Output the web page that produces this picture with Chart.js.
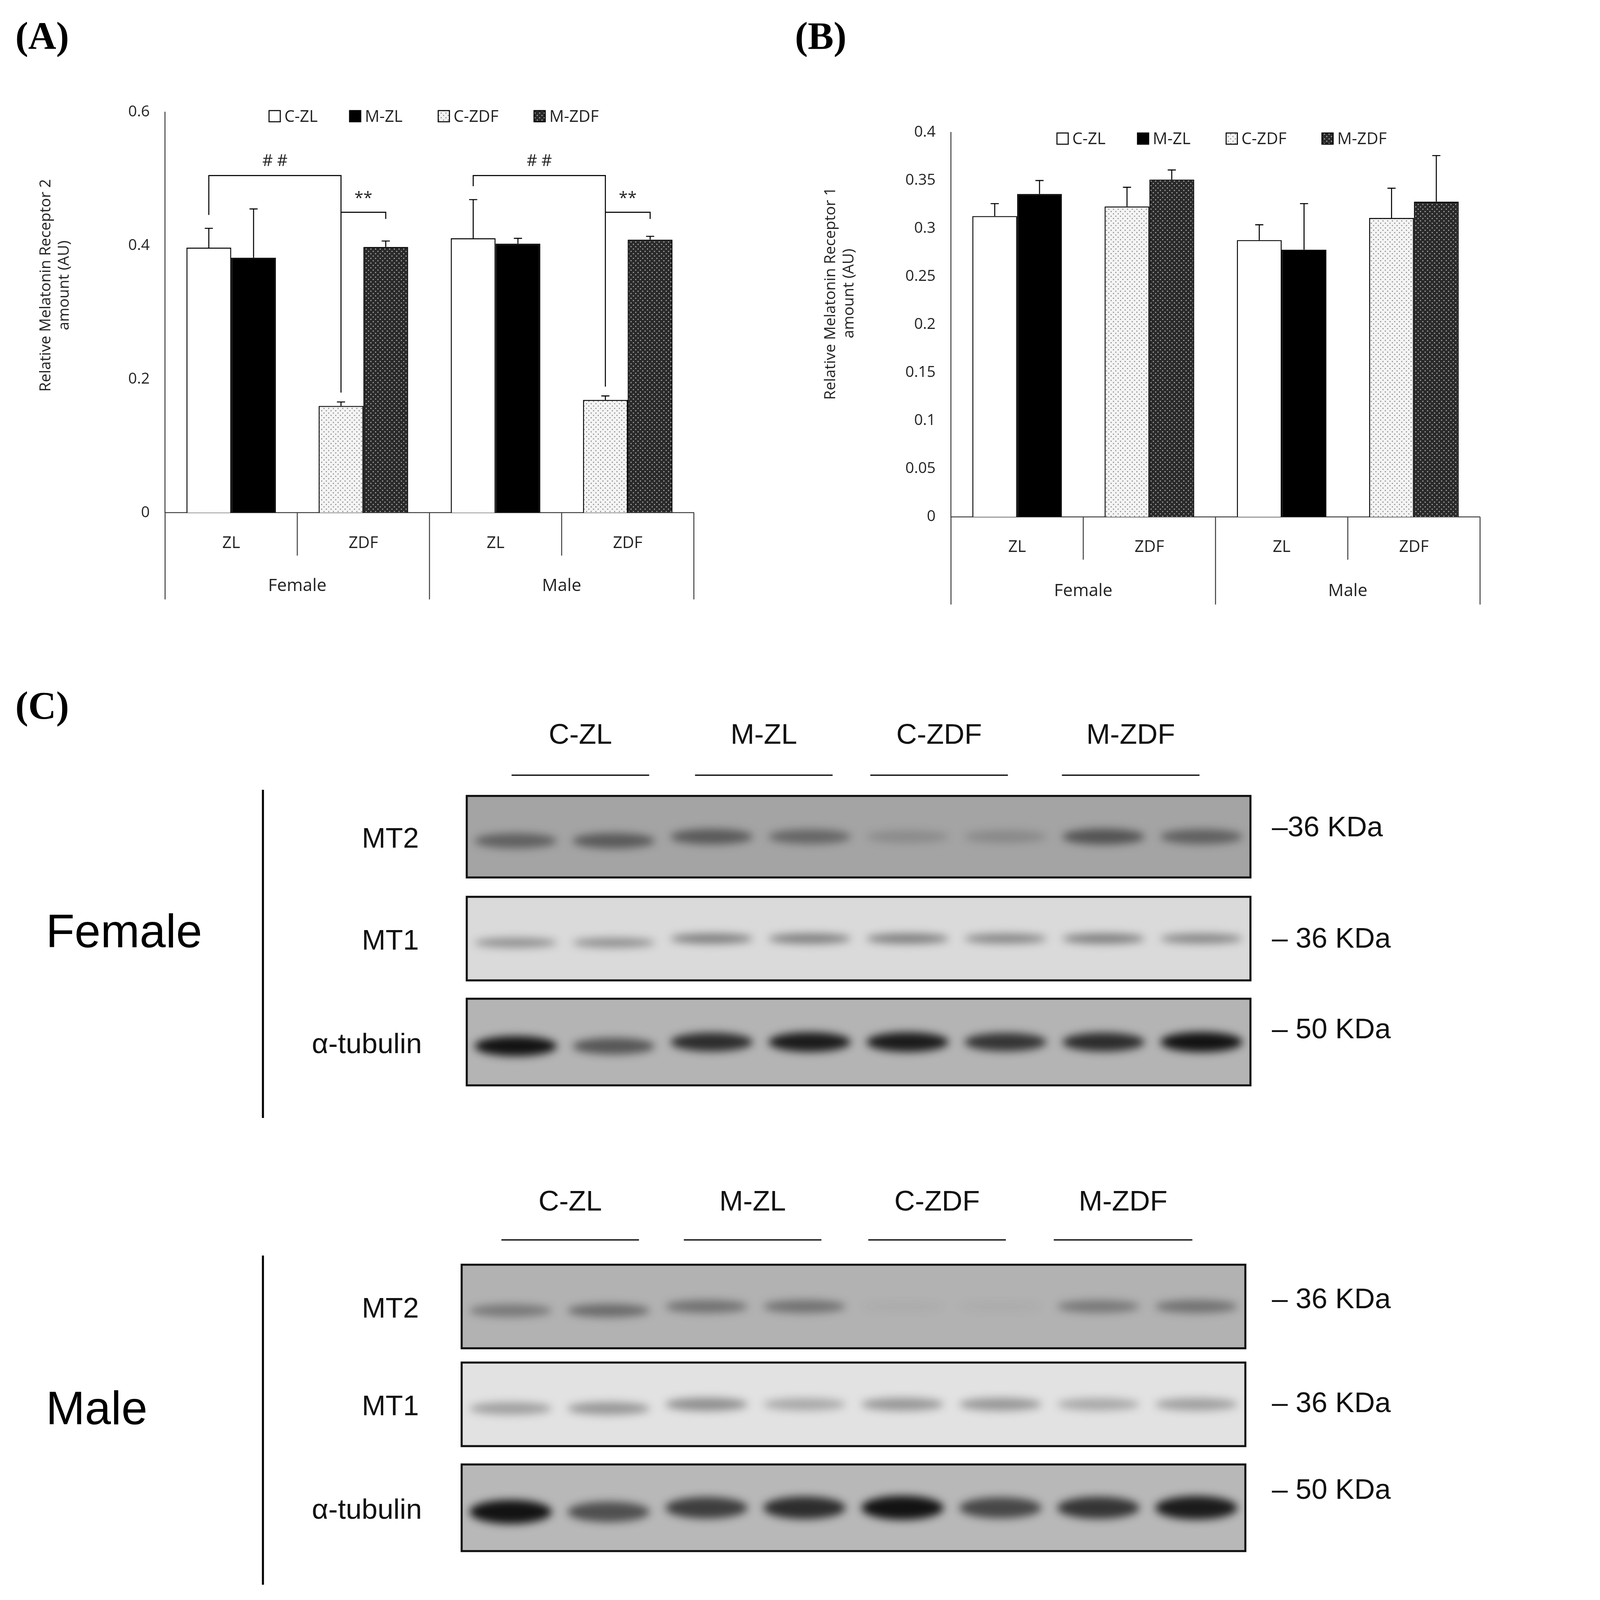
<!DOCTYPE html>
<html><head><meta charset="utf-8">
<script src="https://cdn.jsdelivr.net/npm/chart.js@4.4.1/dist/chart.umd.min.js"></script>
<style>
html,body{margin:0;padding:0;background:#fff;overflow:hidden;}
#page{position:relative;background:#fff;overflow:hidden;}
canvas{position:absolute;}
</style></head><body><div id="page">
<canvas id="ca"></canvas><canvas id="cb"></canvas><canvas id="cc"></canvas>
</div>
<script>
// ---- data ----
const categories = ["ZL","ZDF","ZL","ZDF"];
const sexGroups = ["Female","Male"];
const seriesNames = ["C-ZL","M-ZL","C-ZDF","M-ZDF"];
// Panel A: MT2
const a_CZL  = [0.397, null, 0.411, null];
const a_MZL  = [0.382, null, 0.403, null];
const a_CZDF = [null, 0.160, null, 0.169];
const a_MZDF = [null, 0.398, null, 0.409];
const a_errCZL  = [0.029, null, 0.058, null];
const a_errMZL  = [0.073, null, 0.008, null];
const a_errCZDF = [null, 0.006, null, 0.006];
const a_errMZDF = [null, 0.009, null, 0.005];
// Panel B: MT1
const b_CZL  = [0.313, null, 0.288, null];
const b_MZL  = [0.336, null, 0.278, null];
const b_CZDF = [null, 0.323, null, 0.311];
const b_MZDF = [null, 0.351, null, 0.328];
const b_errCZL  = [0.013, null, 0.016, null];
const b_errMZL  = [0.014, null, 0.048, null];
const b_errCZDF = [null, 0.020, null, 0.031];
const b_errMZDF = [null, 0.010, null, 0.048];
// Panel C band intensities (0..1) per lane
const femMT2 = [0.55,0.6,0.6,0.5,0.2,0.22,0.65,0.55];
const femMT1 = [0.45,0.45,0.55,0.55,0.55,0.5,0.55,0.5];
const femTub = [0.95,0.55,0.8,0.9,0.9,0.75,0.8,0.95];
const malMT2 = [0.45,0.55,0.5,0.5,0.05,0.05,0.45,0.5];
const malMT1 = [0.4,0.45,0.5,0.35,0.45,0.45,0.35,0.4];
const malTub = [0.95,0.6,0.7,0.8,0.95,0.65,0.75,0.9];

const W = window.innerWidth || 4887, H = window.innerHeight || 5233;
const S = Math.min(W/1467, H/1570);
const s = v => v*S;
const pg = document.getElementById('page');
pg.style.width = W+'px'; pg.style.height = H+'px';
const FONT = "'Open Sans', 'Liberation Sans', sans-serif";
Chart.defaults.font.family = FONT;
Chart.defaults.color = '#222';

function makePattern(bg, fg){
  const p = Math.max(3, Math.round(s(2.4)));
  const c = document.createElement('canvas'); c.width = p*2; c.height = p*2;
  const g = c.getContext('2d');
  g.fillStyle = bg; g.fillRect(0,0,p*2,p*2);
  g.fillStyle = fg;
  const d = Math.max(1, Math.round(p*0.55));
  g.fillRect(0,0,d,d); g.fillRect(p,p,d,d);
  return g.createPattern(c,'repeat');
}
const patLight = makePattern('#f4f4f4','#9a9a9a');
const patDark = makePattern('#2a2a2a','#9a9a9a');
const fills = ['#ffffff','#000000',patLight,patDark];

function makeChart(id, left, top, w, h, areaL, areaT, areaR, areaB, data, errs, cfg){
  const cv = document.getElementById(id);
  cv.width = Math.round(s(w)); cv.height = Math.round(s(h));
  cv.style.left = s(left)+'px'; cv.style.top = s(top)+'px';
  const yW = 60;
  const datasets = data.map((d,i)=>({label:seriesNames[i], data:d, backgroundColor:fills[i],
    borderColor:'#000', borderWidth:s(1), skipNull:true, categoryPercentage:0.677, barPercentage:1}));
  const plugin = {
    id:'custom'+id,
    afterDatasetsDraw(chart){
      const ctx = chart.ctx, ys = chart.scales.y, xs = chart.scales.x, ca = chart.chartArea;
      ctx.save();
      ctx.strokeStyle='#000'; ctx.lineWidth = s(1);
      data.forEach((d,i)=>{
        const meta = chart.getDatasetMeta(i);
        d.forEach((v,j)=>{
          if(v==null) return;
          const el = meta.data[j];
          const yt = ys.getPixelForValue(v+errs[i][j]);
          ctx.beginPath(); ctx.moveTo(el.x, el.y); ctx.lineTo(el.x, yt);
          ctx.moveTo(el.x-s(4), yt); ctx.lineTo(el.x+s(4), yt); ctx.stroke();
        });
      });
      const cw = (ca.right-ca.left)/4;
      ctx.strokeStyle='#444';
      for(let k=0;k<=4;k++){
        const x = ca.left + k*cw;
        const len = (k%2===0)? cfg.outerLen : cfg.innerLen;
        ctx.beginPath(); ctx.moveTo(x, ca.bottom); ctx.lineTo(x, ca.bottom+s(len)); ctx.stroke();
      }
      ctx.fillStyle='#222'; ctx.textAlign='center'; ctx.textBaseline='middle';
      ctx.font = s(16)+'px '+FONT;
      categories.forEach((c,k)=>ctx.fillText(c, xs.getPixelForValue(k), ca.bottom+s(cfg.catY)));
      ctx.font = s(17)+'px '+FONT;
      sexGroups.forEach((g,k)=>ctx.fillText(g, ca.left+(2*k+1)*cw, ca.bottom+s(cfg.grpY)));
      ctx.save();
      ctx.translate(s(cfg.titleX), s(cfg.titleY)); ctx.rotate(-Math.PI/2);
      ctx.font = s(15)+'px '+FONT;
      ctx.fillText(cfg.title[0], 0, 0); ctx.fillText(cfg.title[1], 0, s(18));
      ctx.restore();
      ctx.font = s(16)+'px '+FONT; ctx.textAlign='left';
      seriesNames.forEach((n,i)=>{
        const x = s(cfg.legX[i]), y = s(cfg.legY);
        const b = s(11);
        ctx.fillStyle = fills[i]; ctx.fillRect(x, y-b/2, b, b);
        ctx.strokeStyle='#000'; ctx.lineWidth=s(1); ctx.strokeRect(x, y-b/2, b, b);
        ctx.fillStyle='#222'; ctx.fillText(n, x+b+s(4), y+s(1));
      });
      if(cfg.extra) cfg.extra(chart, ctx);
      ctx.restore();
    }
  };
  return new Chart(cv, {
    type:'bar',
    data:{labels:categories, datasets},
    options:{
      responsive:false, animation:false, devicePixelRatio:1,
      layout:{padding:{left:s(areaL-yW), top:s(areaT), right:s(w-areaR), bottom:0}},
      plugins:{legend:{display:false}, tooltip:{enabled:false}},
      scales:{
        x:{grid:{display:false}, ticks:{display:false}, border:{display:true,color:'#444',width:s(1)},
           afterFit(sc){ sc.height = s(h-areaB); }},
        y:{min:0, max:cfg.max, grid:{display:false}, border:{display:true,color:'#444',width:s(1)},
           ticks:{stepSize:cfg.step, font:{size:s(15)}, color:'#222', padding:s(12),
             callback:v=>String(Number(v.toFixed(3)))},
           afterFit(sc){ sc.width = s(yW); }}
      }
    },
    plugins:[plugin]
  });
}

makeChart('ca', 0, 0, 720, 620, 162, 110, 681, 503,
  [a_CZL,a_MZL,a_CZDF,a_MZDF], [a_errCZL,a_errMZL,a_errCZDF,a_errMZDF],
  {max:0.6, step:0.2, outerLen:85, innerLen:42, catY:30, grpY:72,
   titleX:45, titleY:280, title:['Relative Melatonin Receptor 2','amount (AU)'],
   legX:[264,343,430,524], legY:114,
   extra(chart, ctx){
     const ys = chart.scales.y;
     ctx.strokeStyle='#000'; ctx.lineWidth=s(1); ctx.fillStyle='#222';
     ctx.textAlign='center';
     [0,2].forEach(k=>{
       const m0 = chart.getDatasetMeta(0).data[k].x;
       const m2 = chart.getDatasetMeta(2).data[k+1].x;
       const m3 = chart.getDatasetMeta(3).data[k+1].x;
       const yTop = ys.getPixelForValue(0.505), yTop2 = ys.getPixelForValue(0.450);
       const lTop = ys.getPixelForValue(a_CZL[k]+a_errCZL[k]+0.02);
       ctx.beginPath();
       ctx.moveTo(m0, lTop); ctx.lineTo(m0, yTop); ctx.lineTo(m2, yTop);
       ctx.lineTo(m2, ys.getPixelForValue(a_CZDF[k+1]+0.02));
       ctx.moveTo(m2, yTop2); ctx.lineTo(m3, yTop2); ctx.lineTo(m3, ys.getPixelForValue(0.44));
       ctx.stroke();
       ctx.font = s(16)+'px '+FONT;
       ctx.fillText('# #', (m0+m2)/2, yTop-s(14));
       ctx.fillText('**', (m2+m3)/2, yTop2-s(13));
     });
   }});
makeChart('cb', 740, 0, 740, 620, 193, 130, 712, 507,
  [b_CZL,b_MZL,b_CZDF,b_MZDF], [b_errCZL,b_errMZL,b_errCZDF,b_errMZDF],
  {max:0.4, step:0.05, outerLen:86, innerLen:42, catY:30, grpY:73,
   titleX:75, titleY:288, title:['Relative Melatonin Receptor 1','amount (AU)'],
   legX:[297,376,463,557], legY:136});

(function(){
  const cv = document.getElementById('cc');
  cv.width = W; cv.height = H; cv.style.left='0px'; cv.style.top='0px';
  cv.style.pointerEvents='none';
  const ctx = cv.getContext('2d');
  ctx.fillStyle='#000';
  ctx.font = 'bold '+s(38)+'px "Liberation Serif", "DejaVu Serif", serif';
  ctx.textBaseline='middle';
  ctx.fillText('(A)', s(15), s(38)); ctx.fillText('(B)', s(780), s(38)); ctx.fillText('(C)', s(15), s(695));
  const SF = '"Liberation Sans", Arial, sans-serif';
  const groups = ['C-ZL','M-ZL','C-ZDF','M-ZDF'];
  function header(y, ul, xs){
    ctx.font = s(28)+'px '+SF; ctx.textAlign='center'; ctx.fillStyle='#111';
    groups.forEach((g,i)=>{
      ctx.fillText(g, (xs[i][0]+xs[i][1])/2*S, s(y));
      ctx.fillRect(s(xs[i][0]), s(ul), s(xs[i][1]-xs[i][0]), s(1.3));
    });
  }
  function blot(x0,x1,y0,y1,bg,ints,dark,bh){
    ctx.save();
    ctx.fillStyle=bg; ctx.fillRect(s(x0),s(y0),s(x1-x0),s(y1-y0));
    ctx.beginPath(); ctx.rect(s(x0),s(y0),s(x1-x0),s(y1-y0)); ctx.clip();
    const lw = (x1-x0)/8;
    ints.forEach((v,i)=>{
      const cx = x0 + lw*(i+0.5);
      const cy = (y0+y1)/2 + (i<2?4:0);
      ctx.filter = 'blur('+s(4)+'px)';
      ctx.fillStyle = 'rgba('+dark+','+Math.min(1,v)+')';
      ctx.beginPath(); ctx.ellipse(s(cx), s(cy), s(lw*0.42), s(bh*(0.6+0.4*v)), 0, 0, Math.PI*2); ctx.fill();
    });
    ctx.filter='none';
    ctx.restore();
    ctx.strokeStyle='#111'; ctx.lineWidth=s(2); ctx.strokeRect(s(x0),s(y0),s(x1-x0),s(y1-y0));
  }
  function side(label, ly, vx0, vx1, rows, kda){
    ctx.fillStyle='#000'; ctx.textAlign='left';
    ctx.font = s(46)+'px '+SF; ctx.fillText(label, s(45), s(ly));
    ctx.fillRect(s(257), s(vx0), s(2), s(vx1-vx0));
    rows.forEach(r=>{
      blot(r.x0,r.x1,r.y0,r.y1,r.bg,r.ints,r.dark,r.bh);
      ctx.fillStyle='#111'; ctx.font=s(28)+'px '+SF; ctx.textAlign='center';
      ctx.fillText(r.name, s(r.lx), s((r.y0+r.y1)/2+3));
    });
    ctx.textAlign='left';
    kda.forEach(k=>ctx.fillText(k[0], s(1248), s(k[1])));
  }
  header(722, 760, [[502,637],[682,817],[854,989],[1042,1177]]);
  side('Female', 917, 775, 1097, [
    {name:'MT2', lx:383, x0:458,x1:1227,y0:781,y1:861,bg:'#a4a4a4',ints:femMT2,dark:'40,40,40',bh:9},
    {name:'MT1', lx:383, x0:458,x1:1227,y0:880,y1:962,bg:'#dadada',ints:femMT1,dark:'50,50,50',bh:6},
    {name:'α-tubulin', lx:360, x0:458,x1:1227,y0:980,y1:1065,bg:'#b4b4b4',ints:femTub,dark:'10,10,10',bh:10}
  ], [['–36 KDa',813],['– 36 KDa',922],['– 50 KDa',1011]]);
  header(1180, 1216, [[492,627],[671,806],[852,987],[1034,1170]]);
  side('Male', 1385, 1232, 1555, [
    {name:'MT2', lx:383, x0:453,x1:1222,y0:1241,y1:1323,bg:'#b2b2b2',ints:malMT2,dark:'50,50,50',bh:8},
    {name:'MT1', lx:383, x0:453,x1:1222,y0:1337,y1:1419,bg:'#e2e2e2',ints:malMT1,dark:'60,60,60',bh:8},
    {name:'α-tubulin', lx:360, x0:453,x1:1222,y0:1437,y1:1522,bg:'#b8b8b8',ints:malTub,dark:'10,10,10',bh:12}
  ], [['– 36 KDa',1276],['– 36 KDa',1378],['– 50 KDa',1463]]);
})();
</script></body></html>
